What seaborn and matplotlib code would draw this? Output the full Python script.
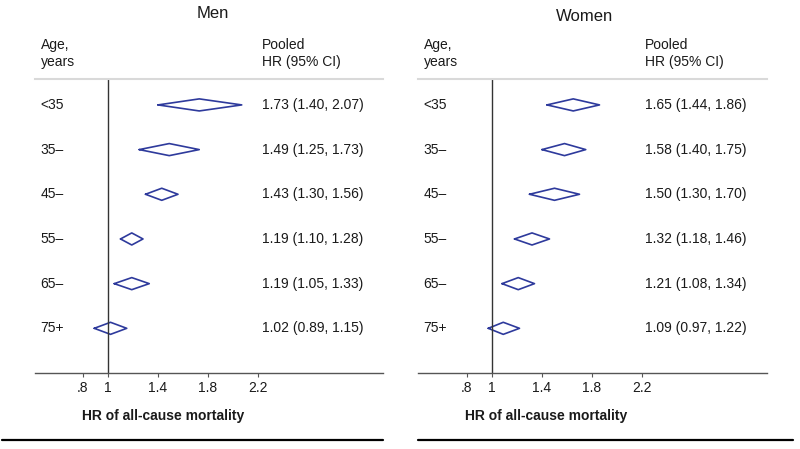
import pandas as pd
import seaborn as sns
import matplotlib.pyplot as plt
from matplotlib.lines import Line2D
import matplotlib.transforms as mtransforms

#   data
ages = ['<35', '35\u2013', '45\u2013', '55\u2013', '65\u2013', '75+']

men_hr = [1.73, 1.49, 1.43, 1.19, 1.19, 1.02]
men_lo = [1.40, 1.25, 1.30, 1.10, 1.05, 0.89]
men_hi = [2.07, 1.73, 1.56, 1.28, 1.33, 1.15]

women_hr = [1.65, 1.58, 1.50, 1.32, 1.21, 1.09]
women_lo = [1.44, 1.40, 1.30, 1.18, 1.08, 0.97]
women_hi = [1.86, 1.75, 1.70, 1.46, 1.34, 1.22]

tick_vals = [0.8, 1, 1.4, 1.8, 2.2]
tick_labels = ['.8', '1', '1.4', '1.8', '2.2']

sns.set_style('white')
plt.rcParams['font.family'] = ['Liberation Sans', 'DejaVu Sans']
plt.rcParams['text.color'] = '#1a1a1a'
plt.rcParams['xtick.color'] = '#1a1a1a'

navy = '#2e3a9c'
fs = 10
half_h = 0.135


def diamonds(hr, lo, hi):
    #   long-form table of diamond outlines, one unit per row
    rows = []
    for i in range(len(hr)):
        pts = [(lo[i], i), (hr[i], i - half_h), (hi[i], i), (hr[i], i + half_h), (lo[i], i)]
        for k, (x, y) in enumerate(pts):
            rows.append({'x': x, 'y': y, 'row': i, 'order': k})
    return pd.DataFrame(rows)


def panel(ax, title, hr, lo, hi, title_x, title_y, xmin):
    df = diamonds(hr, lo, hi)
    sns.lineplot(data=df, x='x', y='y', units='row', estimator=None, sort=False,
                 color=navy, linewidth=1.2, ax=ax)
    ax.set_xlim(xmin, 3.2)
    ax.set_ylim(6.0, -0.58)
    ax.axvline(1, color='#333333', linewidth=1.0)

    for s in ['left', 'right']:
        ax.spines[s].set_visible(False)
    ax.spines['top'].set_color('#d9d9d9')
    ax.spines['top'].set_linewidth(1.5)
    ax.spines['bottom'].set_color('#555555')
    ax.spines['bottom'].set_linewidth(1.0)

    ax.set_yticks([])
    ax.set_xticks(tick_vals)
    ax.set_xticklabels(tick_labels, fontsize=fs)
    ax.tick_params(axis='x', direction='out', length=3, width=0.8, color='#555555', pad=3,
                   bottom=True)
    ax.set_xlabel('')
    ax.set_ylabel('')

    trans = mtransforms.blended_transform_factory(ax.transAxes, ax.transData)
    for i, a in enumerate(ages):
        ax.text(0.016, i, a, transform=trans, fontsize=fs, va='center', ha='left')
        ax.text(0.651, i, f'{hr[i]:.2f} ({lo[i]:.2f}, {hi[i]:.2f})', transform=trans,
                fontsize=fs, va='center', ha='left')

    ax.text(0.016, 1.087, 'Age,\nyears', transform=ax.transAxes, fontsize=fs,
            va='center', ha='left', linespacing=1.3)
    ax.text(0.651, 1.087, 'Pooled\nHR (95% CI)', transform=ax.transAxes, fontsize=fs,
            va='center', ha='left', linespacing=1.3)
    ax.text(title_x, title_y, title, transform=ax.transAxes, fontsize=12,
            va='center', ha='center')
    ax.text(0.135, -0.146, 'HR of all-cause mortality', transform=ax.transAxes,
            fontsize=fs, fontweight='bold', va='center', ha='left')


fig = plt.figure(figsize=(8, 4.49), dpi=100)
ax_m = fig.add_axes([35 / 800, 1 - 373 / 449, 348 / 800, 294 / 449])
ax_w = fig.add_axes([418 / 800, 1 - 373 / 449, 349 / 800, 294 / 449])

panel(ax_m, 'Men', men_hr, men_lo, men_hi, 0.511, 1.224, 0.416)
panel(ax_w, 'Women', women_hr, women_lo, women_hi, 0.478, 1.211, 0.408)

#   thick rules along the bottom
fig.add_artist(Line2D([2 / 800, 383 / 800], [0.02, 0.02], color='black', linewidth=1.6,
                      transform=fig.transFigure))
fig.add_artist(Line2D([418 / 800, 793 / 800], [0.02, 0.02], color='black', linewidth=1.6,
                      transform=fig.transFigure))

fig.savefig('out.png', dpi=100)
